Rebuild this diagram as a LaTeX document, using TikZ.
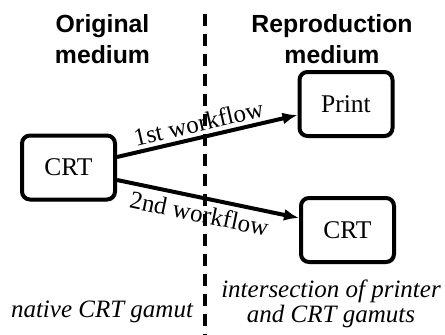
\documentclass[tikz,border=0pt]{standalone}
\usepackage{fontspec}
\setmainfont{Liberation Serif}
\setsansfont{Liberation Sans}
\usetikzlibrary{arrows.meta,shadows}
\begin{document}
\begin{tikzpicture}[x=1pt,y=-1pt,
  box/.style={draw=black, line width=4pt, rounded corners=8pt, fill=white,
    drop shadow={shadow xshift=1.5pt, shadow yshift=-2pt, opacity=0.25},
    font=\fontsize{25.5}{28}\selectfont, inner sep=0pt,
    minimum width=93pt, minimum height=64pt},
  flow/.style={line width=4pt, -{Latex[length=15pt,width=12pt]}},
  flowlabel/.style={font=\fontsize{25}{28}\selectfont, sloped, pos=0.47},
  head/.style={font=\sffamily\bfseries\fontsize{24.8}{31}\selectfont, align=center, inner sep=0pt},
  note/.style={font=\itshape\fontsize{25}{25}\selectfont, align=center, inner sep=0pt},
  divider/.style={line width=4pt, dash pattern=on 12pt off 8pt}]
\useasboundingbox (0,0) rectangle (445,335);

\node[head, anchor=base] (orig) at (102.5,63) {Original\\medium};
\node[head, anchor=base] (repro) at (332,63) {Reproduction\\medium};

\node[box] (crt1) at (68.5,167.5) {CRT};
\node[box] (print) at (346,104) {Print};
\node[box] (crt2) at (347.5,230) {CRT};

\draw[flow] ([yshift=10.5pt]crt1.east) -- node[flowlabel, above, inner sep=4pt] (l1) {1st workflow} ([yshift=-11pt]print.west);
\draw[flow] ([yshift=-12.5pt]crt1.east) -- node[flowlabel, below, inner sep=5pt] (l2) {2nd workflow} ([yshift=12pt]crt2.west);

\coordinate (dtop) at (205,14);
\coordinate (dbot) at (205,340);
\draw[divider] (dtop) -- (dbot);

\node[note, anchor=base] (native) at (102,317) {native CRT gamut};
\node[note, anchor=base] (inter) at (331,322) {intersection of printer\\and CRT gamuts};
\end{tikzpicture}
\end{document}
